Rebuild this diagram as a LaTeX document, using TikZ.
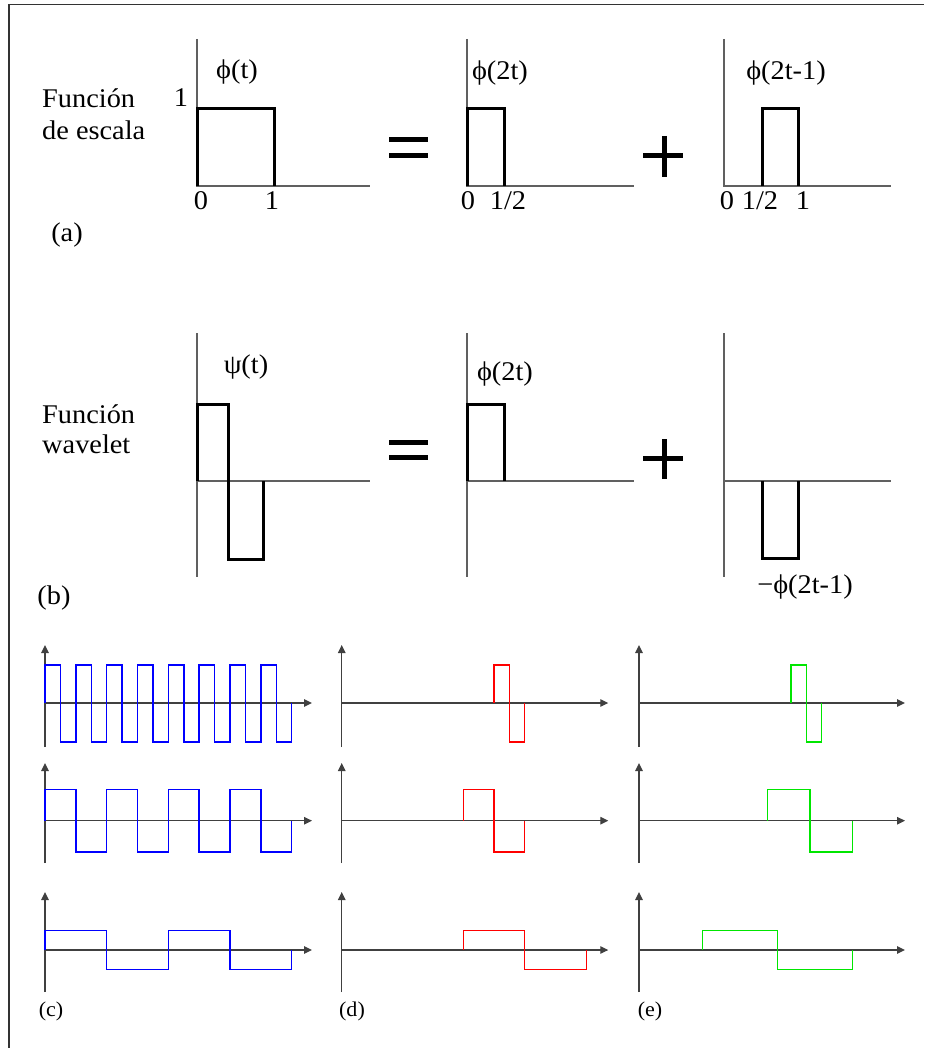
\documentclass[tikz,border=0pt]{standalone}
\usepackage{fontspec}
\setmainfont{Liberation Serif}[FakeStretch=1.05]
\usetikzlibrary{arrows.meta}
\definecolor{axgray}{HTML}{606060}
\definecolor{sigblue}{RGB}{0,0,255}
\definecolor{sigred}{RGB}{255,0,0}
\definecolor{siggreen}{RGB}{0,230,0}
\tikzset{
  frameline/.style={draw=black!80, line width=1.3pt},
  topaxis/.style={draw=axgray, line width=1.2pt},
  boxline/.style={draw=black, line width=3pt, line join=miter},
  opline/.style={draw=black, line width=5pt},
  lbl/.style={inner sep=0pt, anchor=base, font=\fontsize{27}{31}\selectfont},
  lblw/.style={inner sep=0pt, anchor=base west, font=\fontsize{27}{31}\selectfont},
  small/.style={inner sep=0pt, anchor=base, font=\fontsize{21}{25}\selectfont},
  botaxis/.style={draw=black!75, line width=1.3pt},
  arr/.style={-{Triangle[length=8pt,width=7.5pt]}},
  sig/.style={draw=#1, line width=1.5pt, line join=miter}
}
\begin{document}
\begin{tikzpicture}[x=1pt,y=-1pt]
\useasboundingbox (0,0) rectangle (924,1048);
% frame
\draw[frameline] (9,1048) -- (9,4.5) -- (924,4.5);

% ---------- (a) ----------
\draw[topaxis] (197,39) -- (197,186) -- (370,186);
\draw[boxline] (197,186) -- (197,109) -- (274,109) -- (274,186);
\node[lbl] (phit) at (237,79) {ϕ(t)};
\node[lbl] (one) at (181,107) {1};
\node[lbl] (a0) at (201,210) {0};
\node[lbl] (a1) at (272,210) {1};
\node[lblw] (fe1) at (42,108) {Función};
\node[lblw] (fe2) at (42,140) {de escala};
\node[lbl] (la) at (67,242) {(a)};
% equals and plus
\draw[opline] (389,139.5) -- (428,139.5);
\draw[opline] (389,155.5) -- (428,155.5);
\draw[opline] (643,155.5) -- (683,155.5);
\draw[opline] (664,136) -- (664,177);
% phi(2t)
\draw[topaxis] (467,39) -- (467,186) -- (634,186);
\draw[boxline] (467,186) -- (467,109) -- (504,109) -- (504,186);
\node[lbl] (phi2t) at (500,80) {ϕ(2t)};
\node[lbl] (b0) at (468,210) {0};
\node[lbl] (bh) at (508,210) {1/2};
% phi(2t-1)
\draw[topaxis] (724,39) -- (724,186) -- (891,186);
\draw[boxline] (762,186) -- (762,109) -- (798,109) -- (798,186);
\node[lbl] (phi2t1) at (786,80) {ϕ(2t-1)};
\node[lbl] (c0) at (727,210) {0};
\node[lbl] (ch) at (760,210) {1/2};
\node[lbl] (c1) at (803,210) {1};

% ---------- (b) ----------
\draw[topaxis] (197,333) -- (197,577);
\draw[topaxis] (197,481) -- (370,481);
\draw[boxline] (197,481) -- (197,404) -- (228,404) -- (228,559) -- (263,559) -- (263,481);
\node[lbl] (psit) at (246,373) {ψ(t)};
\node[lblw] (fw1) at (42,423) {Función};
\node[lblw] (fw2) at (42,453) {wavelet};
\node[lbl] (lb) at (54,604) {(b)};
\draw[opline] (389,442.5) -- (428,442.5);
\draw[opline] (389,457.5) -- (428,457.5);
\draw[opline] (643,458.5) -- (683,458.5);
\draw[opline] (664,439) -- (664,479);
\draw[topaxis] (467,333) -- (467,577);
\draw[topaxis] (467,481) -- (634,481);
\draw[boxline] (467,481) -- (467,404) -- (504,404) -- (504,481);
\node[lbl] (phi2tb) at (505,380) {ϕ(2t)};
\draw[topaxis] (724,333) -- (724,577);
\draw[topaxis] (724,481) -- (891,481);
\draw[boxline] (762,481) -- (762,558) -- (798,558) -- (798,481);
\node[lbl] (mphi) at (805,593) {−ϕ(2t-1)};

% ---------- bottom axes ----------
\foreach \xo/\xe in {45/312, 341.7/608.3, 639/905}{
  \foreach \ytip/\yax/\ybot in {645/703/747, 763/820.7/863, 892/950/992}{
    \draw[botaxis, arr] (\xo,\ybot) -- (\xo,\ytip);
    \draw[botaxis, arr] (\xo,\yax) -- (\xe,\yax);
  }
}

% ---------- (c) blue ----------
\draw[sig=sigblue] (45,703) -- (45,665)
  foreach \i in {1,...,7} { -- ++(15.42,0) -- ++(0,77) -- ++(15.42,0) -- ++(0,-77) }
  -- ++(15.42,0) -- ++(0,77) -- ++(15.42,0) -- ++(0,-39);
\draw[sig=sigblue] (45,820.7) -- (45,789.3)
  foreach \i in {1,...,3} { -- ++(30.84,0) -- ++(0,62.7) -- ++(30.84,0) -- ++(0,-62.7) }
  -- ++(30.84,0) -- ++(0,62.7) -- ++(30.84,0) -- ++(0,-31.3);
\draw[sig=sigblue] (45,950) -- (45,930.7) -- (106.7,930.7) -- (106.7,969.3) -- (168.3,969.3)
  -- (168.3,930.7) -- (230,930.7) -- (230,969.3) -- (291.7,969.3) -- (291.7,950);

% ---------- (d) red ----------
\draw[sig=sigred] (494,703) -- (494,665) -- (509.3,665) -- (509.3,742) -- (524.7,742) -- (524.7,703);
\draw[sig=sigred] (463.3,820.7) -- (463.3,789.3) -- (494,789.3) -- (494,852) -- (524.7,852) -- (524.7,820.7);
\draw[sig=sigred] (463.3,950) -- (463.3,930.7) -- (524.7,930.7) -- (524.7,969.3) -- (586.7,969.3) -- (586.7,950);

% ---------- (e) green ----------
\draw[sig=siggreen] (791,703) -- (791,665) -- (806.3,665) -- (806.3,742) -- (821.7,742) -- (821.7,703);
\draw[sig=siggreen] (767.7,820.7) -- (767.7,789.3) -- (810,789.3) -- (810,852) -- (852.3,852) -- (852.3,820.7);
\draw[sig=siggreen] (702.3,950) -- (702.3,930.7) -- (777.3,930.7) -- (777.3,969.3) -- (852.3,969.3) -- (852.3,950);

% labels
\node[small] (lc) at (51,1016) {(c)};
\node[small] (ld) at (352,1016) {(d)};
\node[small] (le) at (650,1016) {(e)};
\end{tikzpicture}
\end{document}
